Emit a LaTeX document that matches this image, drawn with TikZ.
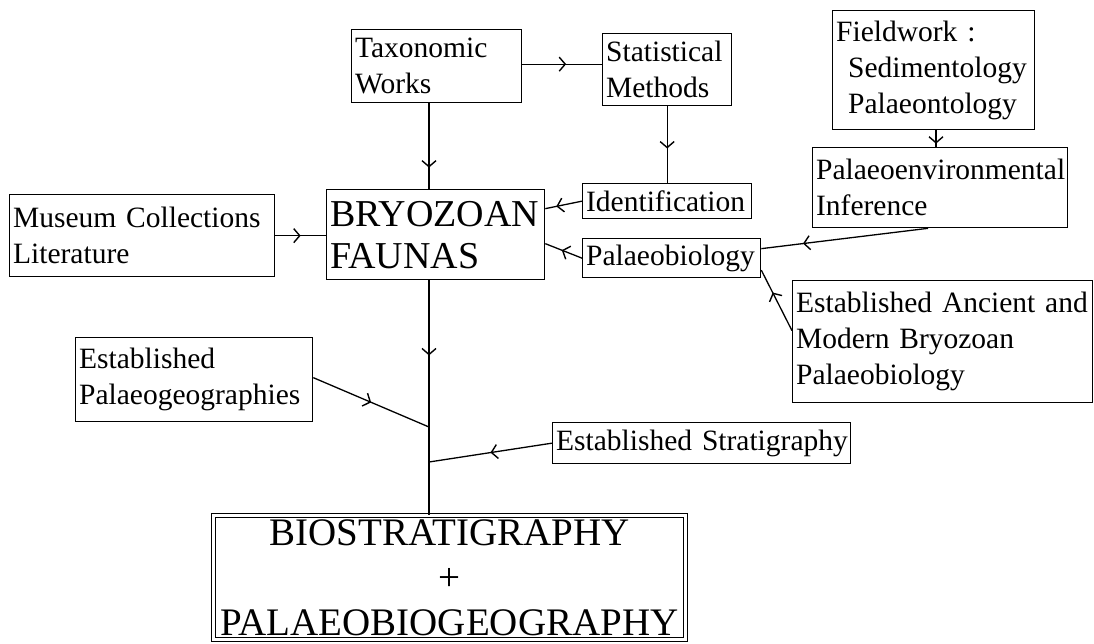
\documentclass[tikz,border=0pt]{standalone}
\usepackage{fontspec}
\setmainfont{Liberation Serif}[WordSpace=0.8]
\usetikzlibrary{arrows.meta,decorations.markings,calc}
\hyphenpenalty=10000
\exhyphenpenalty=10000
\begin{document}
\begin{tikzpicture}[x=1pt,y=-1pt,
  box/.style={draw, line width=1.3pt, anchor=north west, inner xsep=3.5pt, inner ysep=0pt, align=left, font=\fontsize{29.5}{36}\selectfont},
  conn/.style={line width=1.3pt},
  midarrow/.style={postaction={decorate}, decoration={markings, mark=at position #1 with {\arrow{Straight Barb[length=6pt,width=14pt,line width=1.4pt]}}}}]
\path[fill=white, use as bounding box] (0,0) rectangle (1094,643);

\node[box, text width=163pt, minimum height=73pt] (tax) at (351,29) {Taxonomic\\Works};
\node[box, text width=122pt, minimum height=72pt] (stat) at (602,33) {Statistical\\Methods};
\node[box, text width=195pt, minimum height=119pt] (field) at (832,10) {Fieldwork :\\\hspace*{12pt}Sedimentology\\\hspace*{12pt}Palaeontology};
\node[box, text width=248pt, minimum height=80pt] (env) at (812,147) {Palaeoenvironmental\\Inference};
\node[box, text width=162pt, minimum height=35pt] (ident) at (582,183) {Identification};
\node[box, text width=171pt, minimum height=39pt] (palaeo) at (582,238) {Palaeobiology};
\node[box, text width=258pt, minimum height=82pt] (museum) at (9,194) {\mbox{Museum Collections}\\Literature};
\node[box, text width=211pt, minimum height=90pt, font=\fontsize{38}{42}\selectfont] (bryo) at (326,189) {BRYOZOAN\\FAUNAS};
\node[box, text width=230pt, minimum height=84pt] (palgeo) at (75,337) {Established\\Palaeogeographies};
\node[box, text width=293pt, minimum height=122pt] (ancient) at (792,280) {\mbox{Established Ancient and}\\\mbox{Modern Bryozoan}\\Palaeobiology};
\node[box, text width=291pt, minimum height=41pt] (strat) at (552,422) {\mbox{Established Stratigraphy}};
\node[box, double, double distance=2.4pt, line width=1pt, align=center, text width=465pt, minimum height=124pt, font=\fontsize{39}{45}\selectfont] (result) at (213,515) {BIOSTRATIGRAPHY\\+\\PALAEOBIOGEOGRAPHY};

\coordinate (vx) at (429,0);
\coordinate (fx) at (936,0);
\coordinate (j1) at (429,427);
\coordinate (j2) at (429,462);
\coordinate (t1) at ($(tax.east)+(0,-2)$);

\draw[conn, midarrow=0.55] (t1) -- (t1 -| stat.west);
\draw[conn, midarrow=0.75] (tax.south -| vx) -- (bryo.north -| vx);
\draw[conn, midarrow=0.55] (stat.south) -- (ident.north -| stat.south);
\draw[conn, midarrow=0.8] (field.south -| fx) -- (env.north -| fx);
\draw[conn, midarrow=0.5] (museum.east) -- (bryo.west |- museum.east);
\draw[conn, midarrow=0.7] (ident.west) -- ($(bryo.east)+(0,-26)$);
\draw[conn, midarrow=0.55] (palaeo.west) -- ($(bryo.east)+(0,9)$);
\draw[conn, midarrow=0.75] ($(env.south)+(-12,0)$) -- ($(palaeo.east)+(0,-9.5)$);
\draw[conn, midarrow=0.63] ($(ancient.west)+(0,-11)$) -- ($(palaeo.east)+(0,12)$);
\draw[conn, midarrow=0.32] (bryo.south -| vx) -- (result.north -| vx);
\draw[conn, midarrow=0.5] ($(palgeo.east)+(0,-2)$) -- (j1);
\draw[conn, midarrow=0.5] (strat.west) -- (j2);
\end{tikzpicture}
\end{document}
